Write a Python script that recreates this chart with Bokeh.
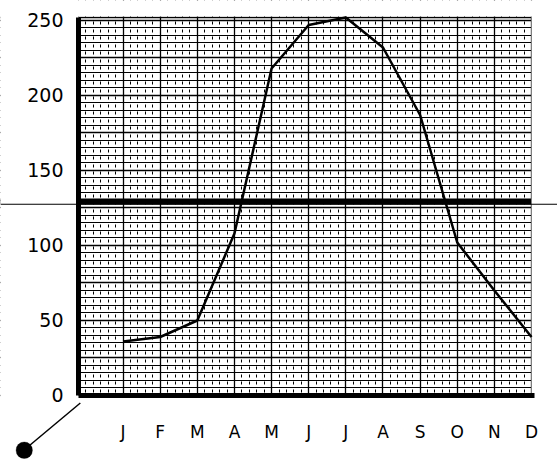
from bokeh.plotting import figure
from bokeh.models import (FixedTicker, Span, Range1d, Arrow, BoxAnnotation, Grid,
                          LinearAxis)
from bokeh.embed import file_html
from bokeh.resources import INLINE

# ---- data ----
months = ["J", "F", "M", "A", "M", "J", "J", "A", "S", "O", "N", "D"]
values = [36, 39, 50, 108, 218, 247, 252, 232, 187, 102, 70, 39]
y_ticks = [0, 50, 100, 150, 200, 250]
threshold = 129

# sheet extent (data units)
x_lo, x_hi = -1.2, 11
y_lo, y_hi = 0, 252

x = list(range(len(months)))

p = figure(width=557, height=459, output_backend="svg", toolbar_location=None,
           x_range=Range1d(-3.3, 11.7), y_range=Range1d(-42.67, 263.33),
           x_axis_location=None, y_axis_location=None, min_border=0)
p.background_fill_color = "white"
p.border_fill_color = "white"
p.outline_line_color = None
p.xgrid.visible = False
p.ygrid.visible = False

# graph-paper grid
minor_x = [i * 0.2 for i in range(-6, 56)]
vgrid = Grid(dimension=0,
             ticker=FixedTicker(ticks=x, minor_ticks=minor_x),
             grid_line_color="black", grid_line_width=1.3,
             minor_grid_line_color="black", minor_grid_line_width=1,
             minor_grid_line_dash="3 4 3 5")
hgrid = Grid(dimension=1,
             ticker=FixedTicker(ticks=list(range(0, 251, 25)) + [y_hi],
                                minor_ticks=list(range(0, 255, 5))),
             grid_line_color="black", grid_line_width=1.6,
             minor_grid_line_color="black", minor_grid_line_width=1)
thick = Grid(dimension=1, ticker=FixedTicker(ticks=[threshold]),
             grid_line_color="black", grid_line_width=6)
p.add_layout(vgrid)
p.add_layout(hgrid)
p.add_layout(thick)

# white margins around the sheet (drawn over the grid only)
for kw in (dict(right=x_lo), dict(left=x_hi), dict(bottom=y_hi + 0.6), dict(top=y_lo)):
    p.add_layout(BoxAnnotation(level="underlay", fill_color="white", fill_alpha=1,
                               line_color=None, **kw))

# axes
yax = LinearAxis(fixed_location=x_lo, bounds=(y_lo, y_hi),
                 ticker=FixedTicker(ticks=y_ticks))
xax = LinearAxis(fixed_location=y_lo, bounds=(x_lo, x_hi + 0.08),
                 ticker=FixedTicker(ticks=x))
for ax in (xax, yax):
    ax.axis_line_width = 5
    ax.axis_line_color = "black"
    ax.major_tick_line_color = None
    ax.minor_tick_line_color = None
    ax.major_label_text_color = "black"
    ax.major_label_text_font = "DejaVu Sans"
yax.major_label_text_font_size = "19px"
yax.major_label_standoff = 9
xax.major_label_text_font_size = "17px"
xax.major_label_standoff = 21
xax.major_label_overrides = {i: m for i, m in zip(x, months)}
p.add_layout(yax, "left")
p.add_layout(xax, "below")

# data line
p.line(x, values, line_color="black", line_width=2.5)

# thin continuation of the heavy line beyond the sheet
p.add_layout(Span(location=threshold - 1.5, dimension="width",
                  line_color="black", line_width=1.2))

# origin pointer
p.add_layout(Arrow(end=None, x_start=-1.15, y_start=-5, x_end=-2.6, y_end=-35,
                   line_color="black", line_width=1.5))
p.add_layout(BoxAnnotation(left=-2.88, right=-2.44, bottom=-42, top=-31,
                           border_radius=8, fill_color="black", fill_alpha=1,
                           line_color="black"))

open("out.html", "w").write(file_html(p, INLINE))
